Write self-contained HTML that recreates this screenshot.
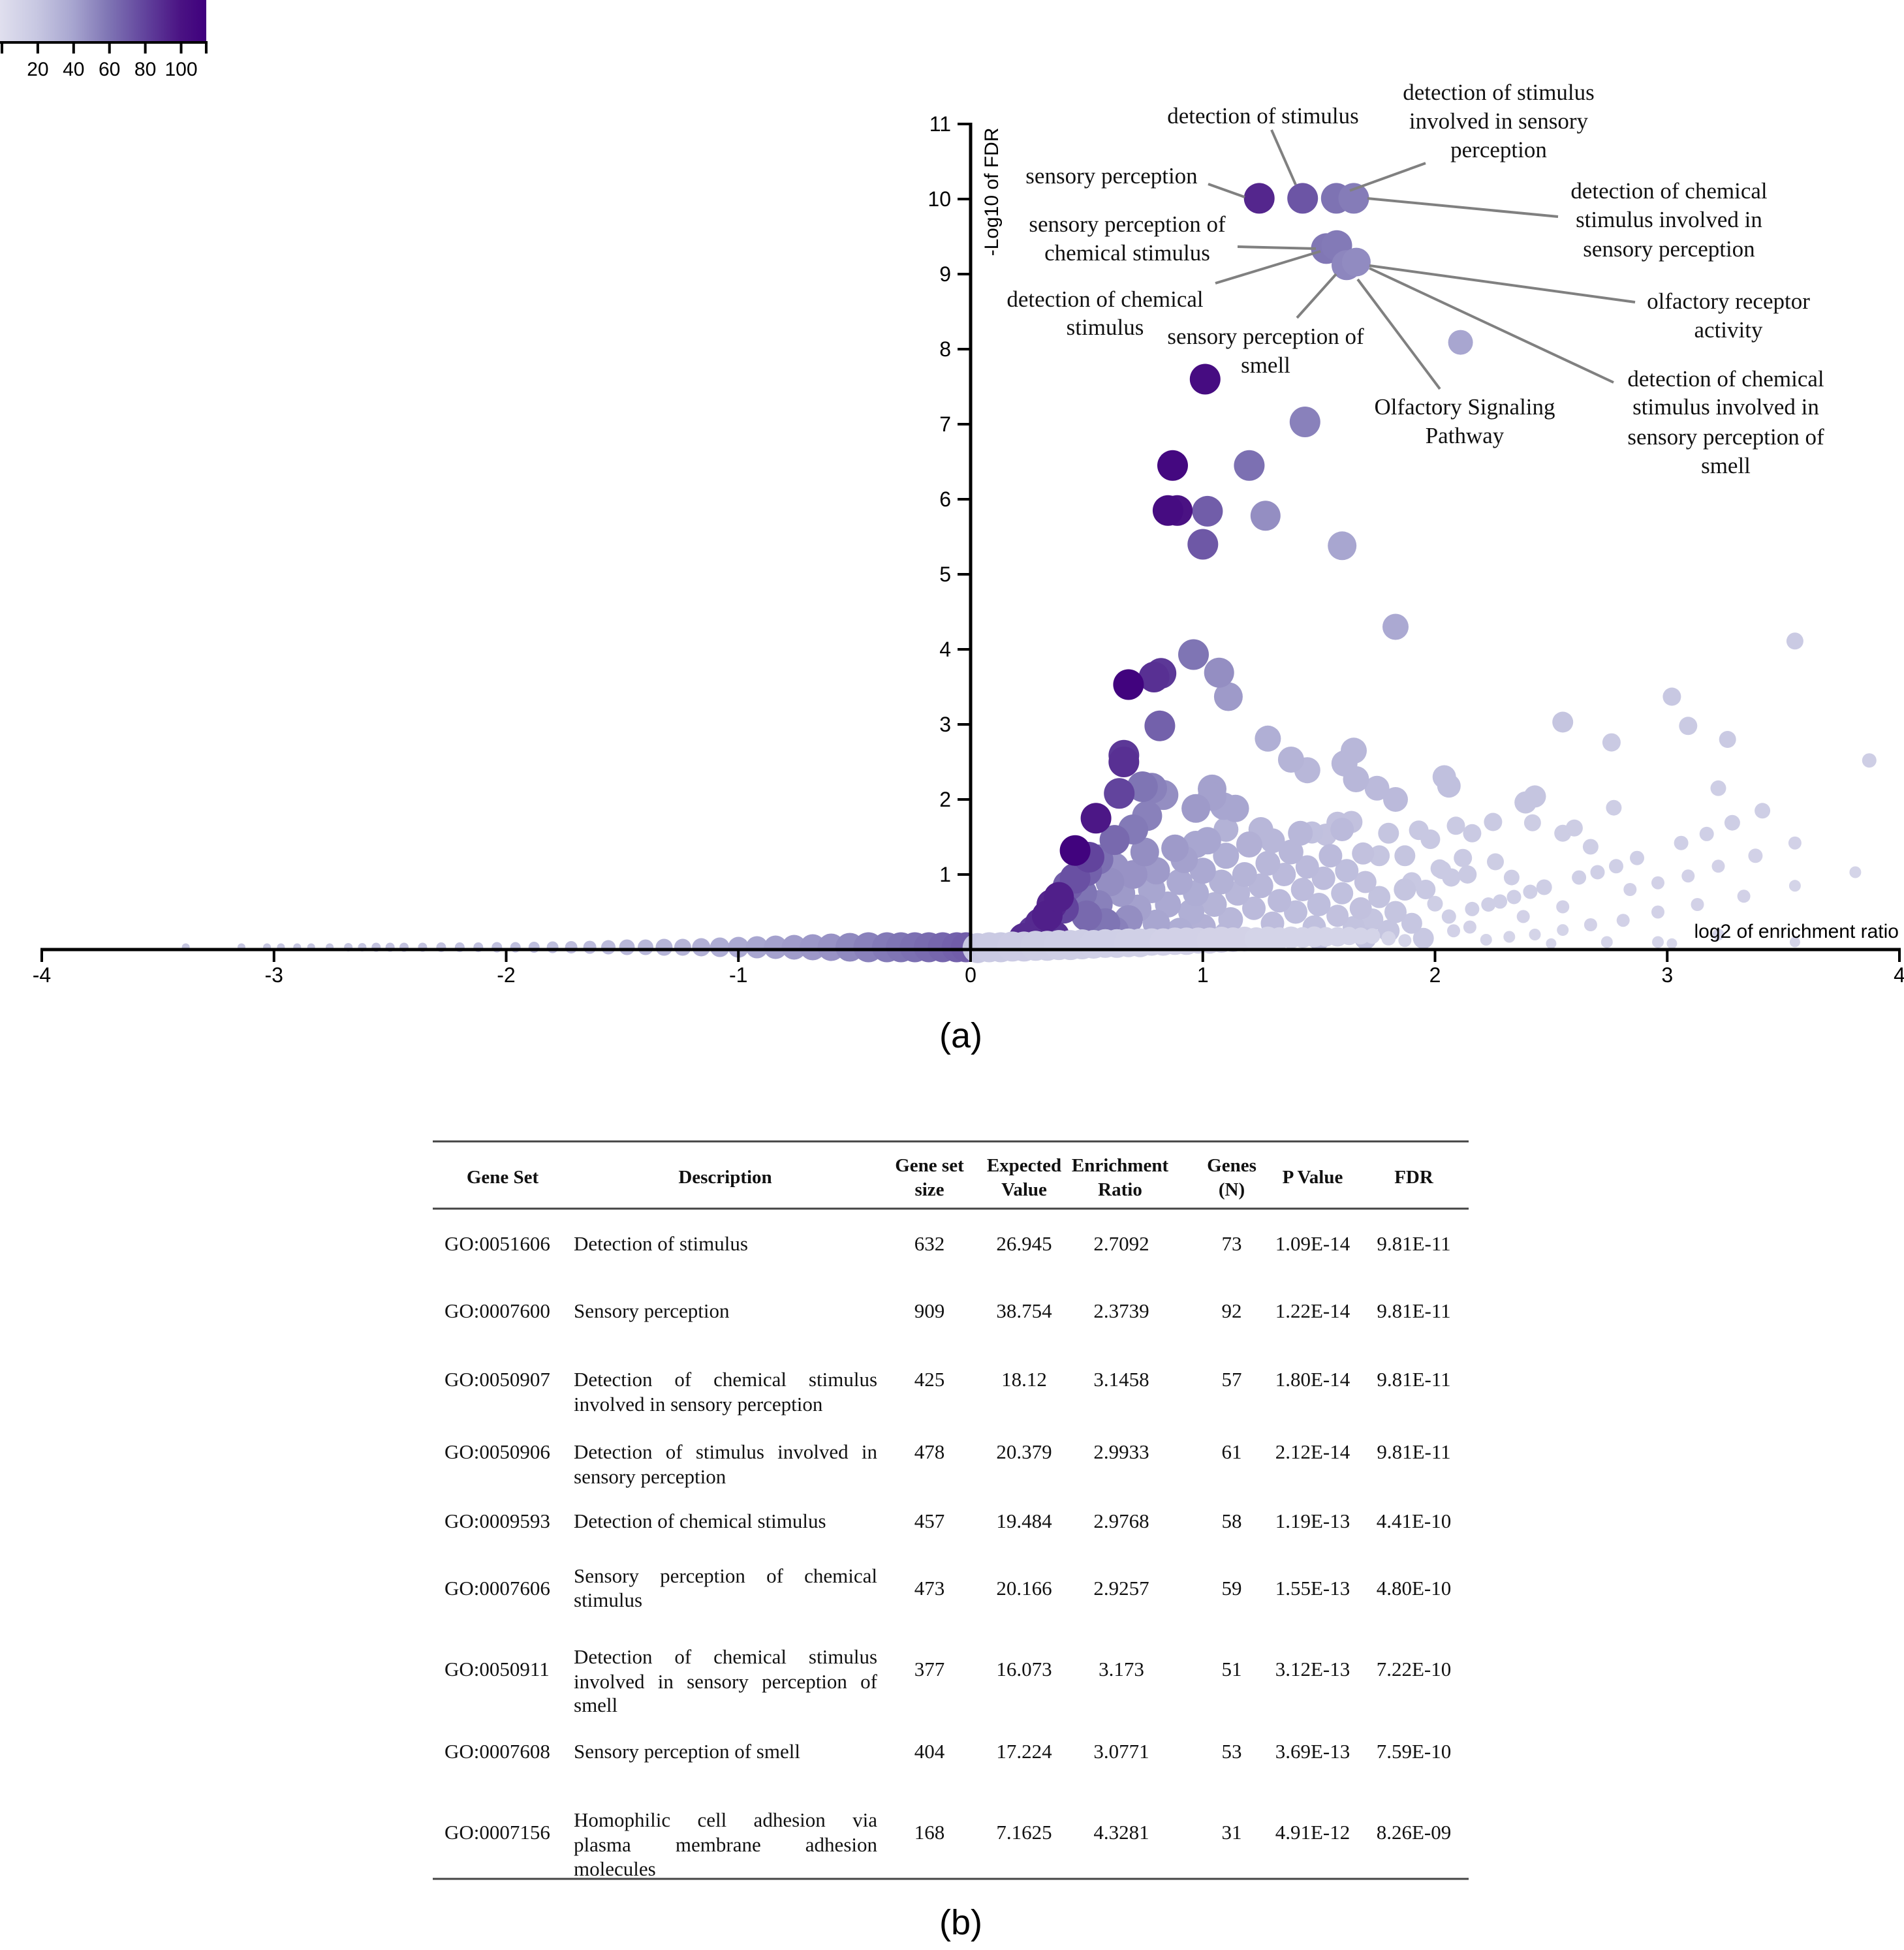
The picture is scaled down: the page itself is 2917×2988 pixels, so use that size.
<!DOCTYPE html>
<html><head><meta charset="utf-8"><style>
html,body{margin:0;padding:0;background:#fff;}
svg{display:block;}
.sans{font-family:"Liberation Sans",Arial,sans-serif;}
.serif{font-family:"Liberation Serif","Times New Roman",serif;}
</style></head><body>
<svg id="fig" width="2917" height="2988" viewBox="0 0 2917 2988" xmlns="http://www.w3.org/2000/svg">
<defs>
<linearGradient id="cbg" x1="0" x2="1" y1="0" y2="0">
<stop offset="0" stop-color="#e0dfee"/><stop offset="0.175" stop-color="#c8c8e2"/><stop offset="0.35" stop-color="#a8a6d0"/><stop offset="0.526" stop-color="#7f75b4"/><stop offset="0.70" stop-color="#62449d"/><stop offset="0.877" stop-color="#4a1283"/><stop offset="1" stop-color="#3f007d"/>
</linearGradient>
</defs>
<g>
<rect x="0" y="0" width="316" height="63" fill="url(#cbg)"/>
<g id="cbticks" class="sans" font-size="30" fill="#000"></g>
</g>
<g id="points"></g>
<g id="axes"></g>
<g id="leaders" stroke="#808080" stroke-width="4"></g>
<g id="labels" class="serif" font-size="35" fill="#111" text-anchor="middle"></g>
<text x="1472" y="1605" class="sans" font-size="54" text-anchor="middle">(a)</text>
<g id="table" class="serif" font-size="31" fill="#111"></g>
<text x="1472" y="2964" class="sans" font-size="54" text-anchor="middle">(b)</text>
</svg>
<script>
// ---------- chart data: [log2 enrichment ratio, -log10 FDR, genes (N), expected value] ----------
const labeledSets = [[1.243,10.01,92,38],[1.43,10.01,73,27],[1.575,10.01,61,20],[1.65,10.01,57,18],[1.532,9.34,59,20],[1.577,9.38,58,19],[1.619,9.12,53,17],[1.661,9.16,51,16]];
const peakSets = [[1.01,7.6,105,20],[1.44,7.03,55,18],[0.87,6.45,108,20],[1.2,6.45,62,18],[0.85,5.85,105,20],[0.89,5.85,100,20],[1.02,5.84,70,18],[1.27,5.78,50,17],[1.0,5.4,72,18],[1.6,5.38,40,16],[1.83,4.3,38,14],[2.11,8.09,40,13],
[0.68,3.53,112,20],[0.79,3.63,88,20],[0.82,3.68,85,20],[0.96,3.93,60,19],[1.07,3.69,50,17],[1.11,3.37,45,16],[0.815,2.98,68,18],[0.66,2.59,85,20],[0.66,2.5,88,20],[0.64,2.08,80,19],[0.54,1.75,98,20],[0.45,1.32,112,19],[0.74,2.17,60,18],[0.78,2.15,55,18],[0.83,2.06,50,17],[0.76,1.78,55,17],[0.70,1.6,58,17],[0.62,1.46,65,17],[0.51,1.23,80,18],[0.38,0.7,95,17],[1.04,2.14,42,16],[1.04,2.04,42,16],[0.97,1.88,45,16],[1.14,1.88,40,15],[1.09,1.91,40,15],[1.28,2.81,35,14],[1.38,2.53,32,14],[1.45,2.39,30,14],[1.65,2.65,30,14],[1.61,2.48,30,14],[1.66,2.27,30,14],[1.75,2.15,28,13],[1.83,2.0,28,13],[2.04,2.3,25,12],[2.06,2.18,25,12],[2.39,1.96,22,11],[2.43,2.04,22,11],[2.55,3.03,22,10]];
const outerSets = [[3.55,4.11,18,7],[3.02,3.37,20,8],[3.09,2.98,18,8],[2.76,2.76,18,8],[3.26,2.8,18,7],[3.87,2.52,15,5],[3.22,2.15,15,6],[2.77,1.89,15,6],[3.41,1.85,15,6],[3.28,1.69,15,6],[3.17,1.54,14,5],[3.06,1.42,14,5],[3.55,1.42,12,4],[3.38,1.25,12,5],[3.22,1.11,12,4],[3.09,0.98,12,4],[3.81,1.03,10,3],[3.55,0.85,10,3],[2.96,0.89,12,4],[2.87,1.22,14,5],[2.78,1.11,14,5],[2.70,1.03,14,5],[2.62,0.96,14,5],[2.67,1.37,15,6],[2.55,1.55,16,7],[2.60,1.62,16,7],[2.42,1.69,16,7],[2.25,1.70,18,8],[2.16,1.55,18,8],[2.09,1.65,18,8],[2.26,1.17,16,7],[2.12,1.22,18,8],[2.02,1.08,18,8],[2.33,0.96,15,6],[2.47,0.83,15,6],[2.41,0.77,14,5],[2.34,0.70,14,5],[2.28,0.64,14,5],[2.23,0.60,14,5],[2.16,0.54,14,5],[2.84,0.80,12,4],[3.33,0.71,12,4],[3.13,0.60,12,4],[2.96,0.50,12,4],[2.81,0.39,12,4],[2.67,0.33,12,4],[2.55,0.57,12,4],[2.55,0.26,10,3],[2.38,0.44,12,4],[2.43,0.20,10,3],[2.32,0.17,10,3],[2.22,0.13,10,3],[2.15,0.30,12,4],[2.08,0.25,12,4],[2.06,0.44,14,5],[2.0,0.61,15,6],[1.98,1.47,20,9],[1.93,1.59,20,9],[1.80,1.55,22,10],[1.64,1.70,24,11],[1.58,1.69,24,11],[1.53,1.53,24,11],[1.47,1.56,25,11],[1.69,1.28,24,11],[1.76,1.25,22,10],[1.87,1.25,22,10],[2.03,1.06,18,8],[2.07,0.96,18,8],[2.14,1.0,18,8],[1.90,0.9,20,9],[1.96,0.8,20,9],[2.96,0.1,10,3],[2.74,0.1,10,3],[3.22,0.2,10,3],[2.5,0.08,10,2],[3.55,0.1,10,2],[3.02,0.08,8,2]];
const cloudSets = [[0.33,0.45,95,20],[0.30,0.35,90,20],[0.27,0.25,85,20],[0.35,0.6,92,20],[0.40,0.55,80,18],[0.42,0.85,70,18],[0.45,0.95,75,18],[0.36,0.18,88,20],[0.23,0.15,90,20],[0.5,1.05,68,18],[0.48,0.75,60,17],[0.55,1.2,62,17],
[0.55,0.6,55,16],[0.6,0.9,50,16],[0.62,1.1,48,16],[0.65,0.75,45,15],[0.7,1.0,48,16],[0.72,0.55,42,15],[0.75,1.3,50,16],[0.78,0.8,40,15],[0.8,1.05,45,15],[0.85,0.6,38,14],[0.88,1.35,45,15],[0.9,0.9,38,14],[0.92,1.2,42,15],[0.95,0.5,35,14],[0.97,0.75,36,14],[1.0,1.05,38,14],[1.02,1.45,40,15],[0.58,0.35,60,17],[0.68,0.4,50,16],[0.8,0.35,40,15],[0.5,0.45,65,18],[0.62,0.25,55,16],
[1.05,0.6,32,13],[1.08,0.9,33,13],[1.1,1.25,35,14],[1.12,0.4,30,13],[1.15,0.75,30,13],[1.18,1.0,32,13],[1.2,1.4,34,14],[1.22,0.55,28,12],[1.25,0.85,30,13],[1.28,1.15,30,13],[1.3,0.35,27,12],[1.33,0.65,28,12],[1.35,1.0,28,12],[1.38,1.3,30,13],[1.4,0.5,26,12],[1.43,0.8,27,12],[1.45,1.1,28,12],[1.48,0.3,25,12],[1.5,0.6,26,12],[1.52,0.95,27,12],[1.55,1.25,28,12],[1.58,0.45,24,11],[1.6,0.75,25,11],[1.62,1.05,26,12],[1.65,0.3,23,11],[1.68,0.55,24,11],[1.7,0.9,24,11],[1.73,0.4,22,11],[1.76,0.7,23,11],[1.8,0.25,22,11],[1.83,0.5,22,11],[1.87,0.8,22,11],[1.9,0.35,21,10],[1.95,0.15,20,10],[1.1,0.2,30,13],[1.3,0.18,27,12],[1.5,0.15,25,12],[1.7,0.15,23,11],[1.0,0.3,34,14],[0.9,0.25,36,14],[1.25,1.6,30,13],[1.42,1.55,30,13],[1.1,1.6,33,13],[0.97,1.4,40,15],[1.6,1.6,28,12],[1.3,1.45,30,13]];
const posBand = [[0.03,0.02,20,17],[0.08,0.03,18,17],[0.13,0.03,18,17],[0.18,0.04,17,17],[0.23,0.04,17,17],[0.28,0.05,16,17],[0.33,0.05,16,17],[0.38,0.06,15,17],[0.43,0.06,15,17],[0.48,0.07,15,17],[0.53,0.07,14,16],[0.58,0.08,14,16],[0.63,0.08,14,16],[0.68,0.09,13,16],[0.73,0.09,13,16],[0.78,0.10,13,15],[0.83,0.10,12,15],[0.88,0.11,12,15],[0.93,0.11,12,15],[0.98,0.12,12,14],[1.03,0.12,11,14],[1.08,0.13,11,14],[1.13,0.13,11,13],[1.18,0.14,11,13],[1.23,0.14,10,12],[1.28,0.15,10,12],[1.33,0.15,10,11],[1.38,0.16,10,11],[1.43,0.16,10,10],[1.48,0.17,10,10],[1.53,0.17,10,9],[1.58,0.17,10,9],[1.63,0.18,10,8],[1.68,0.18,10,7],[1.73,0.18,10,6],[1.8,0.15,10,5],[1.87,0.12,10,4]];
const negBand = [[-3.38,0.03,22,0],[-3.14,0.03,22,0],[-3.03,0.03,22,0],[-2.97,0.03,22,0],[-2.9,0.03,22,0],[-2.84,0.03,22,0],[-2.76,0.03,22,0],[-2.68,0.03,22,0.5],[-2.62,0.03,22,0.5],[-2.56,0.03,24,1],[-2.5,0.03,24,1],[-2.44,0.03,24,1],[-2.36,0.03,24,1],[-2.28,0.03,24,1.5],[-2.2,0.03,25,1.5],[-2.12,0.03,25,1.5],[-2.04,0.03,25,2],[-1.96,0.03,26,2],[-1.88,0.03,26,2.5],[-1.8,0.03,26,3],[-1.72,0.03,27,3.5],[-1.64,0.03,28,4],[-1.56,0.03,28,5],[-1.48,0.03,30,6],[-1.4,0.03,30,6],[-1.32,0.03,32,7],[-1.24,0.03,32,7],[-1.16,0.03,34,8],[-1.08,0.03,36,9],[-1.0,0.03,38,10],[-0.92,0.03,40,11],[-0.84,0.03,42,12],[-0.76,0.03,44,13],[-0.68,0.03,46,14],[-0.6,0.03,48,15],[-0.52,0.03,52,16],[-0.44,0.03,55,17],[-0.36,0.03,58,17],[-0.3,0.03,60,17],[-0.24,0.03,62,17],[-0.18,0.03,64,17],[-0.12,0.03,66,17],[-0.06,0.03,68,17],[-0.02,0.03,70,17]];
const xTicks = [-4,-3,-2,-1,0,1,2,3,4];
const yTicks = [1,2,3,4,5,6,7,8,9,10,11];
const legendTicks = [20,40,60,80,100];

// ---------- scales ----------
const X0 = 1487, XU = 355.75, Y0 = 1455, YU = 115;
function sx(v){ return X0 + v*XU; }
function sy(v){ return Y0 - v*YU; }
function sr(e){ return Math.min(23.5, 6 + e); }
const stops = [[0,[224,223,238]],[20,[200,200,226]],[40,[168,166,208]],[60,[127,117,180]],[80,[98,68,157]],[100,[74,18,131]],[114,[63,0,125]]];
function col(n){
  n = Math.max(0, Math.min(114, n));
  for (let i=1;i<stops.length;i++){
    if (n <= stops[i][0]){
      const a=stops[i-1], b=stops[i], t=(n-a[0])/(b[0]-a[0]);
      const c=a[1].map((v,k)=>Math.round(v+(b[1][k]-v)*t));
      return 'rgb('+c.join(',')+')';
    }
  }
  return 'rgb(63,0,125)';
}
const NS='http://www.w3.org/2000/svg';
function mk(tag, attrs, parent){
  const el=document.createElementNS(NS,tag);
  for (const k in attrs) el.setAttribute(k, attrs[k]);
  parent.appendChild(el); return el;
}

// ---------- colour legend ticks ----------
const cb=document.getElementById('cbticks');
const cbLine=mk('line',{x1:0,y1:65,x2:318,y2:65,stroke:'#000','stroke-width':4},cb);


[0].concat(legendTicks).concat([114]).forEach(v=>{
  const x=Math.min(316, 3+v*2.745);
  const t=mk('line',{x1:x,y1:63,x2:x,y2:82,stroke:'#000','stroke-width':4},cb);
  
  
});
legendTicks.forEach(v=>{
  const t=mk('text',{x:3+v*2.745,y:116,'text-anchor':'middle'},cb);
  t.textContent=v;
  
  
});

// ---------- points ----------
const pg=document.getElementById('points');
function drawSet(arr, name){
  arr.forEach(p=>{
    const c=mk('circle',{cx:sx(p[0]).toFixed(1),cy:sy(p[1]).toFixed(1),r:sr(p[3]).toFixed(1),fill:col(p[2])},pg);
    
    
  });
}
drawSet(negBand, 'gene-set-point-depleted');
drawSet(cloudSets.concat(outerSets).concat(peakSets).sort((a,b)=>a[2]-b[2]), 'gene-set-point');
drawSet(posBand, 'gene-set-point-band');
drawSet(labeledSets, 'labeled-gene-set-point');

// ---------- axes ----------
const ax=document.getElementById('axes');
const xl=mk('line',{x1:62,y1:Y0,x2:2912,y2:Y0,stroke:'#000','stroke-width':5},ax);


xTicks.forEach(v=>{
  const t=mk('line',{x1:sx(v),y1:Y0,x2:sx(v),y2:Y0+19,stroke:'#000','stroke-width':4},ax);
  
  
  const l=mk('text',{x:sx(v),y:Y0+50,'text-anchor':'middle','font-size':32,'class':'sans'},ax);
  l.textContent=v;
  
  
});
const yl=mk('line',{x1:X0,y1:Y0,x2:X0,y2:sy(11)-2,stroke:'#000','stroke-width':5},ax);


yTicks.forEach(v=>{
  const t=mk('line',{x1:X0-20,y1:sy(v),x2:X0,y2:sy(v),stroke:'#000','stroke-width':4},ax);
  
  
  const l=mk('text',{x:X0-30,y:sy(v)+11,'text-anchor':'end','font-size':32,'class':'sans'},ax);
  l.textContent=v;
  
  
});
const yt=mk('text',{x:0,y:0,'text-anchor':'middle','font-size':30,'class':'sans',transform:'translate(1529,294) rotate(-90)'},ax);
yt.textContent='-Log10 of FDR';


const xt=mk('text',{x:2909,y:1437,'text-anchor':'end','font-size':30,'class':'sans'},ax);
xt.textContent='log2 of enrichment ratio';



// ---------- annotations ----------
const leaders=[[1851,282,1907,302],[1948,199,1985,283],[1896,378,2016,381],[1862,434,2023,385],[1987,487,2047,420],[2184,250,2068,292],[2095,304,2387,332],[2098,407,2505,463],[2080,428,2206,596],[2098,411,2472,586]];
const lg=document.getElementById('leaders');
leaders.forEach(s=>{
  const l=mk('line',{x1:s[0],y1:s[1],x2:s[2],y2:s[3]},lg);
  
  
});
const annots=[
 [1935,[177],['detection of stimulus']],
 [2296,[141,185,229],['detection of stimulus','involved in sensory','perception']],
 [1703,[269],['sensory perception']],
 [1727,[343,387],['sensory perception of','chemical stimulus']],
 [1693,[458,501],['detection of chemical','stimulus']],
 [1939,[515,559],['sensory perception of','smell']],
 [2557,[292,336,381],['detection of chemical','stimulus involved in','sensory perception']],
 [2648,[461,505],['olfactory receptor','activity']],
 [2244,[623,667],['Olfactory Signaling','Pathway']],
 [2644,[580,623,669,713],['detection of chemical','stimulus involved in','sensory perception of','smell']]
];
const lab=document.getElementById('labels');
annots.forEach(a=>{
  const t=mk('text',{},lab);
  
  
  a[2].forEach((s,i)=>{
    const sp=mk('tspan',{x:a[0],y:a[1][i]+12},t);
    sp.textContent=s;
  });
});

// ---------- table ----------
const tb=document.getElementById('table');
function txt(x,y,s,anchor,bold){
  const t=mk('text',{x:x,y:y,'text-anchor':anchor||'start'},tb);
  if(bold){ t.setAttribute('font-weight','bold'); t.setAttribute('font-size','29'); }
  t.textContent=s; return t;
}
[[1749,'table-top-rule'],[1852,'table-header-rule'],[2879,'table-bottom-rule']].forEach(r=>{
  const l=mk('line',{x1:663,y1:r[0],x2:2250,y2:r[0],stroke:'#444','stroke-width':3},tb);
  
  
});
const headers=[[770,['Gene Set']],[1111,['Description']],[1424,['Gene set','size']],[1569,['Expected','Value']],[1716,['Enrichment','Ratio']],[1887,['Genes','(N)']],[2011,['P Value']],[2166,['FDR']]];
headers.forEach(h=>{
  const ys=h[1].length===1?[1802]:[1784,1821];
  h[1].forEach((s,i)=>{
    const t=txt(h[0],ys[i]+11,s,'middle',true);
    
    
  });
});
const rows=[
 ['GO:0051606',['Detection of stimulus'],[1905],1905,'632','26.945','2.7092','73','1.09E-14','9.81E-11'],
 ['GO:0007600',['Sensory perception'],[2008],2008,'909','38.754','2.3739','92','1.22E-14','9.81E-11'],
 ['GO:0050907',['Detection of chemical stimulus','involved in sensory perception'],[2113,2151],2113,'425','18.12','3.1458','57','1.80E-14','9.81E-11'],
 ['GO:0050906',['Detection of stimulus involved in','sensory perception'],[2224,2262],2224,'478','20.379','2.9933','61','2.12E-14','9.81E-11'],
 ['GO:0009593',['Detection of chemical stimulus'],[2330],2330,'457','19.484','2.9768','58','1.19E-13','4.41E-10'],
 ['GO:0007606',['Sensory perception of chemical','stimulus'],[2414,2451],2433,'473','20.166','2.9257','59','1.55E-13','4.80E-10'],
 ['GO:0050911',['Detection of chemical stimulus','involved in sensory perception of','smell'],[2538,2576,2612],2557,'377','16.073','3.173','51','3.12E-13','7.22E-10'],
 ['GO:0007608',['Sensory perception of smell'],[2683],2683,'404','17.224','3.0771','53','3.69E-13','7.59E-10'],
 ['GO:0007156',['Homophilic cell adhesion via','plasma membrane adhesion','molecules'],[2788,2826,2863],2807,'168','7.1625','4.3281','31','4.91E-12','8.26E-09']
];
const colX=[1424,1569,1718,1887,2011,2166];
rows.forEach(r=>{
  const g=mk('g',{},tb);
  
  
  const id=mk('text',{x:681,y:r[3]+11},g); id.textContent=r[0];
  r[1].forEach((s,i)=>{
    const last=i===r[1].length-1;
    const t=mk('text',{x:879,y:r[2][i]+11},g); t.textContent=s;
    if(!last){
      const len=t.getComputedTextLength();
      const spaces=(s.match(/ /g)||[]).length;
      if(spaces>0) t.setAttribute('word-spacing', ((465-len)/spaces).toFixed(2));
    }
  });
  for(let k=0;k<6;k++){
    const t=mk('text',{x:colX[k],y:r[3]+11,'text-anchor':'middle'},g);
    t.textContent=r[4+k];
  }
});
</script>
</body></html>
